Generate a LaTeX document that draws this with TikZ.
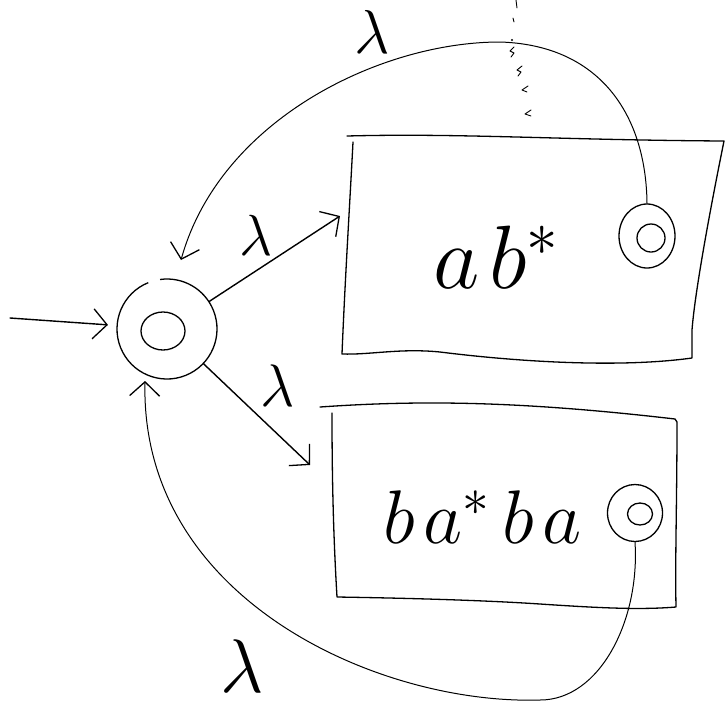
\RequirePackage{fix-cm}
\documentclass[tikz,border=0pt]{standalone}
\usetikzlibrary{arrows.meta,shapes.geometric}
\begin{document}
\begin{tikzpicture}[x=1pt,y=-1pt,
  box/.style={line width=1.3pt, line join=round, line cap=round},
  conn/.style={line width=1.4pt, line cap=round},
  loopline/.style={line width=1pt, line cap=round},
  tip/.style={-{Straight Barb[length=14pt,width=30pt,line width=1.3pt]}},
  ring/.style={draw, line width=1.3pt, inner sep=0pt},
  mk/.style={line width=0.9pt, line cap=round, line join=round},
  lbl/.style={inner sep=0pt}]
\fill[white] (0,0) rectangle (725,710);
\useasboundingbox (0,0) rectangle (725,710);

% start state
\node[circle, minimum size=100pt, inner sep=0pt] (s) at (167,329) {};
\draw[line width=1.3pt] ([shift={(112:50pt)}]s.center) arc[start angle=112, end angle=458, radius=50pt];
\node[ring, ellipse, minimum width=44pt, minimum height=38pt] (sin) at (163,331) {};

% boxes
\draw[box] (353,142) .. controls (350,200) and (345,280) .. (342,354)
  .. controls (370,355) and (400,348) .. (440,352)
  .. controls (520,362) and (620,368) .. (692,358)
  -- (692,330) .. controls (695,290) and (712,200) .. (724,141)
  .. controls (560,140) and (460,133) .. (347,136);
\draw[box] (332,413) .. controls (332,470) and (333,530) .. (337,597)
  .. controls (400,598) and (480,600) .. (540,604)
  .. controls (600,608) and (640,610) .. (676,607)
  .. controls (675,560) and (677,500) .. (677,422)
  -- (675,419) .. controls (520,401) and (420,400) .. (320,407);

% box texts
\node[anchor=base west, inner sep=0pt, font=\fontsize{90}{90}\selectfont] (t1) at (433,288) {$a\mkern2mu b^{*}$};
\node[anchor=base west, inner sep=0pt, font=\fontsize{76}{76}\selectfont] (t2) at (383,543) {$b\mkern2mu a^{*}\mkern3mu b\mkern2mu a$};

% final states
\node[ring, ellipse, minimum width=56pt, minimum height=64pt] (f1) at (647,236) {};
\node[ring, ellipse, minimum width=28pt, minimum height=28pt] (f1in) at (651,238) {};
\node[ring, ellipse, minimum width=55pt, minimum height=57pt] (f2) at (635,513) {};
\node[ring, ellipse, minimum width=25pt, minimum height=22pt] (f2in) at (640,514) {};

% connectors
\coordinate (a0) at (10,318);
\draw[conn, tip, shorten >=9pt] (a0) -- (s);
\coordinate (e1) at (340,216);
\draw[conn, tip] (s) -- (e1);
\coordinate (e2) at (310,465);
\draw[conn, tip] (s) -- (e2);
\coordinate (c1) at (181,260);
\draw[loopline, tip] (f1.north) .. controls (646,115) and (600,45) .. (500,42)
  .. controls (380,42) and (220,120) .. (c1);
\coordinate (c2) at (145,381);
\draw[loopline, tip] (f2.south) .. controls (640,620) and (600,700) .. (540,700)
  .. controls (380,705) and (140,600) .. (c2);

% labels
\node[lbl, font=\fontsize{62}{62}\selectfont] (l1) at (372,32) {$\lambda$};
\node[lbl, font=\fontsize{58}{58}\selectfont] (l2) at (256,235) {$\lambda$};
\node[lbl, font=\fontsize{60}{60}\selectfont] (l3) at (278,386) {$\lambda$};
\node[lbl, font=\fontsize{76}{76}\selectfont] (l4) at (242,666) {$\lambda$};

% dotted marks
\draw[mk] (516,0) -- (517,8);
\draw[mk] (513,18) -- (514,22);
\fill (512,40) circle (1.2pt);
\draw[mk] (514,47) -- (510,51) -- (514,53) -- (511,57);
\draw[mk] (522,66) -- (517,70) -- (521,72) -- (518,76);
\draw[mk] (528,86) -- (522,90) -- (527,92);
\draw[mk] (531,110) -- (525,114) -- (531,116);
\end{tikzpicture}
\end{document}
